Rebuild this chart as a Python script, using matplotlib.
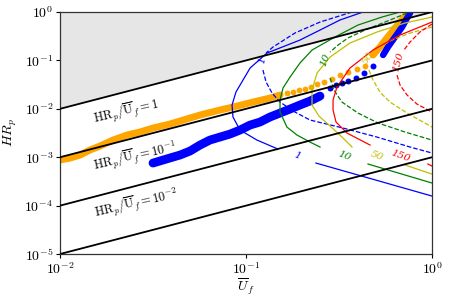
import numpy as np
import matplotlib
matplotlib.use('Agg')
import matplotlib.pyplot as plt
from matplotlib.ticker import NullLocator

plt.rcParams['mathtext.fontset'] = 'cm'
plt.rcParams['font.family'] = 'serif'
plt.rcParams['font.serif'] = ['DejaVu Serif']

# ratio lines HR_p = c * U_f
ratios = [1.0, 1e-1, 1e-2, 1e-3]
ratio_text = [r'$\mathrm{HR}_p/\overline{\mathrm{U}}_f = 1$',
              r'$\mathrm{HR}_p/\overline{\mathrm{U}}_f = 10^{-1}$',
              r'$\mathrm{HR}_p/\overline{\mathrm{U}}_f = 10^{-2}$']
ratio_text_x = [-1.645, -1.597, -1.591]   # log10 positions
ratio_text_y = [-2.066, -2.996, -3.967]

# contour levels / colours
levels = ['1', '10', '50', '150']
colors = ['b', 'g', 'y', 'r']

# solid curves (log10 U_f, log10 HR_p), upper part + part after inline label
solid_x = [
    [-0.371, -0.495, -0.602, -0.710, -0.887, -0.978, -1.016, -1.054, -1.075, -1.070, -1.032, -0.941, -0.828],
    [-0.172, -0.269, -0.398, -0.522, -0.645, -0.710, -0.763, -0.801, -0.817, -0.817, -0.780, -0.726, -0.656, -0.602],
    [0.0, -0.145, -0.296, -0.441, -0.548, -0.618, -0.645, -0.645, -0.608, -0.548, -0.484, -0.430],
    [0.0, -0.172, -0.317, -0.441, -0.511, -0.532, -0.532, -0.516, -0.457, -0.333],
]
solid_y = [
    [0.0, -0.165, -0.372, -0.579, -0.847, -1.157, -1.405, -1.653, -1.921, -2.169, -2.438, -2.645, -2.831],
    [0.0, -0.103, -0.269, -0.517, -0.785, -1.054, -1.343, -1.570, -1.818, -2.066, -2.376, -2.541, -2.686, -2.789],
    [-0.103, -0.227, -0.413, -0.640, -0.930, -1.260, -1.612, -1.921, -2.149, -2.355, -2.583, -2.789],
    [-0.207, -0.475, -0.785, -1.157, -1.550, -1.818, -2.025, -2.273, -2.500, -2.748],
]
solid_tail_x = [[-0.624, 0.0], [-0.344, 0.0], [-0.145, 0.0], [-0.022, 0.0]]
solid_tail_y = [[-3.120, -3.802], [-3.140, -3.533], [-3.161, -3.347], [-3.140, -3.182]]
solid_lab_x = [-0.726, -0.473, -0.296, -0.172]
solid_lab_y = [-2.975, -2.975, -2.975, -2.975]

# dashed curves: upper arm, lower arm
dash_up_x = [
    [-0.430, -0.602, -0.737, -0.855, -0.892],
    [-0.134, -0.253, -0.360, -0.452, -0.505, -0.548],
    [0.0, -0.118, -0.215, -0.290],
    [0.0, -0.065, -0.118, -0.151],
]
dash_up_y = [
    [0.0, -0.207, -0.434, -0.723, -0.847],
    [-0.021, -0.207, -0.372, -0.537, -0.682, -0.826],
    [-0.310, -0.434, -0.579, -0.744],
    [-0.248, -0.413, -0.620, -0.785],
]
dash_lo_x = [
    [-0.909, -0.892, -0.860, -0.817, -0.737, -0.656, -0.478, -0.296, -0.118, 0.0],
    [-0.548, -0.527, -0.484, -0.398, -0.290, -0.145, 0.0],
    [-0.339, -0.317, -0.280, -0.226, -0.134, 0.0],
    [-0.188, -0.172, -0.134, -0.081, 0.0],
]
dash_lo_y = [
    [-1.198, -1.446, -1.674, -1.860, -2.066, -2.231, -2.397, -2.583, -2.789, -2.913],
    [-1.364, -1.612, -1.860, -2.087, -2.293, -2.479, -2.645],
    [-1.198, -1.405, -1.653, -1.860, -2.087, -2.376],
    [-1.302, -1.508, -1.715, -1.901, -2.066],
]
dash_lab_x = [-0.914, -0.575, -0.344, -0.183]
dash_lab_y = [-0.992, -0.992, -0.950, -1.033]
dash_lab_rot = [80, 70, 58, 75]

# measured points
orange_band_x = [-2.0, -1.946, -1.892, -1.839, -1.785, -1.715, -1.640, -1.570, -1.500, -1.409,
                 -1.301, -1.247, -1.140, -1.070, -0.962, -0.871, -0.817]
orange_band_y = [-3.058, -3.017, -2.955, -2.851, -2.769, -2.645, -2.541, -2.479, -2.397, -2.314,
                 -2.190, -2.128, -2.025, -1.963, -1.860, -1.777, -1.715]
orange_dots_x = [-0.780, -0.747, -0.715, -0.685, -0.652, -0.617, -0.580, -0.540, -0.497, -0.452, -0.405, -0.360]
orange_dots_y = [-1.674, -1.653, -1.612, -1.580, -1.540, -1.495, -1.450, -1.384, -1.310, -1.245, -1.178, -1.110]
orange_top_x = [-0.317, -0.280, -0.242, -0.199, -0.161, -0.129]
orange_top_y = [-0.888, -0.723, -0.537, -0.331, -0.165, 0.0]

blue_band_x = [-1.500, -1.446, -1.392, -1.355, -1.301, -1.247, -1.194, -1.140, -1.086, -1.032,
               -0.978, -0.925, -0.871, -0.817, -0.763, -0.710, -0.656, -0.602]
blue_band_y = [-3.120, -3.058, -2.996, -2.955, -2.872, -2.748, -2.645, -2.583, -2.521, -2.438,
               -2.335, -2.273, -2.169, -2.087, -2.004, -1.921, -1.839, -1.736]
blue_dots_x = [-0.548, -0.516, -0.484, -0.452, -0.409, -0.366, -0.317]
blue_dots_y = [-1.570, -1.508, -1.467, -1.426, -1.364, -1.260, -1.116]
blue_top_x = [-0.263, -0.237, -0.199, -0.161, -0.134, -0.118]
blue_top_y = [-0.888, -0.723, -0.517, -0.310, -0.124, -0.021]

xticks = [1e-2, 1e-1, 1e0]
xticklabels = [r'$10^{-2}$', r'$10^{-1}$', r'$10^{0}$']
yticks = [1e-5, 1e-4, 1e-3, 1e-2, 1e-1, 1e0]
yticklabels = [r'$10^{-5}$', r'$10^{-4}$', r'$10^{-3}$', r'$10^{-2}$', r'$10^{-1}$', r'$10^{0}$']


def p(a):
    return 10.0 ** np.array(a)


fig = plt.figure(figsize=(4.5, 3.01), dpi=100)
ax = fig.add_axes([0.1333, 0.156, 0.8267, 0.804])
ax.set_xscale('log')
ax.set_yscale('log')

u = np.array([1e-2, 1e0])
ax.fill_between(u, u, 1e0, color='0.9', lw=0, zorder=0)

# data points
ax.plot(p(orange_band_x), p(orange_band_y), '-', color='orange', lw=5.0, solid_capstyle='round', zorder=1)
ax.plot(p(orange_dots_x), p(orange_dots_y), 'o', color='orange', ms=4.2, mec='none', zorder=1)
ax.plot(p(orange_top_x), p(orange_top_y), '-', color='orange', lw=5.0, solid_capstyle='round', zorder=1)
ax.plot(p(blue_band_x), p(blue_band_y), '-', color='b', lw=6.3, solid_capstyle='round', zorder=1)
ax.plot(p(blue_dots_x), p(blue_dots_y), 'o', color='b', ms=4.3, mec='none', zorder=1)
ax.plot(p(blue_top_x), p(blue_top_y), '-', color='b', lw=4.6, solid_capstyle='round', zorder=1)

# contour-like curves
for i, c in enumerate(colors):
    ax.plot(p(solid_x[i]), p(solid_y[i]), '-', color=c, lw=0.9, zorder=2)
    ax.plot(p(solid_tail_x[i]), p(solid_tail_y[i]), '-', color=c, lw=0.9, zorder=2)
    ax.plot(p(dash_up_x[i]), p(dash_up_y[i]), '--', color=c, lw=0.9, zorder=2)
    ax.plot(p(dash_lo_x[i]), p(dash_lo_y[i]), '--', color=c, lw=0.9, zorder=2)
    ax.text(p(solid_lab_x[i]), p(solid_lab_y[i]), levels[i], color=c, fontsize=7.5,
            fontstyle='italic', rotation=-20, ha='center', va='center')
    ax.text(p(dash_lab_x[i]), p(dash_lab_y[i]), levels[i], color=c, fontsize=7.5,
            fontstyle='italic', rotation=dash_lab_rot[i], ha='center', va='center')

for c in ratios:
    ax.plot(u, c * u, '-k', lw=1.3, zorder=3)

for i, t in enumerate(ratio_text):
    ax.text(p(ratio_text_x[i]), p(ratio_text_y[i]), t, fontsize=9, rotation=13,
            ha='center', va='center')

ax.set_xlim(1e-2, 1e0)
ax.set_ylim(1e-5, 1e0)
ax.set_xticks(xticks)
ax.set_xticklabels(xticklabels)
ax.set_yticks(yticks)
ax.set_yticklabels(yticklabels)
ax.xaxis.set_minor_locator(NullLocator())
ax.yaxis.set_minor_locator(NullLocator())
ax.tick_params(labelsize=10, length=3, width=0.8, pad=2)
for s in ax.spines.values():
    s.set_linewidth(0.9)
    s.set_color('0.2')

ax.set_xlabel(r'$\overline{U}_f$', fontsize=10, labelpad=0)
ax.set_ylabel(r'$HR_p$', fontsize=10, labelpad=4)

fig.savefig('out.png', dpi=100)
